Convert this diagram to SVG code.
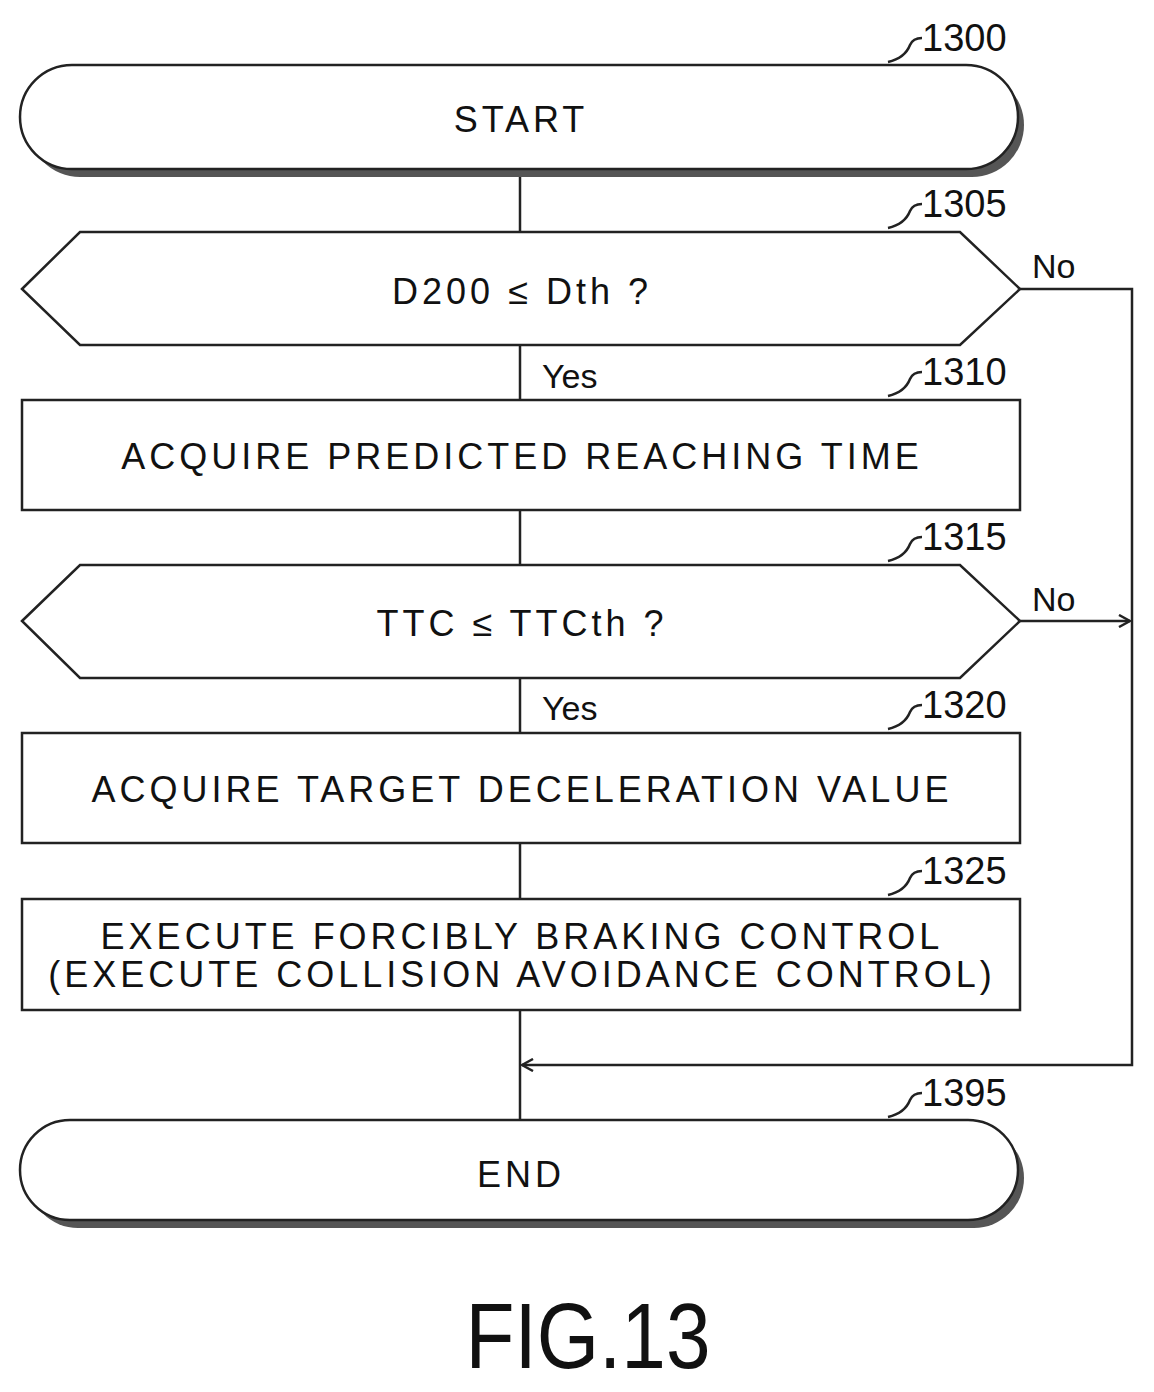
<svg xmlns="http://www.w3.org/2000/svg" width="1154" height="1392" viewBox="0 0 1154 1392">
<defs>
<style>
.s{fill:#fff;stroke:#222;stroke-width:2.5}
.sh{fill:#555}
.c{fill:none;stroke:#222;stroke-width:2.5}
.t{font-family:"Liberation Sans",Arial,sans-serif;font-size:36px;fill:#111;text-anchor:middle;letter-spacing:4px}
.l{font-family:"Liberation Sans",Arial,sans-serif;font-size:34px;fill:#111}
.n{font-family:"Liberation Sans",Arial,sans-serif;font-size:38px;fill:#111}
</style>
<marker id="a" markerWidth="14" markerHeight="14" refX="12" refY="7" orient="auto" markerUnits="userSpaceOnUse"><path d="M1,1 L12,7 L1,13" fill="none" stroke="#222" stroke-width="2.5"/></marker>
</defs>
<rect width="1154" height="1392" fill="#fff"/>
<g id="connectors">
<path class="c" d="M520,175 V232"/>
<path class="c" d="M520,345 V400"/>
<path class="c" d="M520,510 V565"/>
<path class="c" d="M520,678 V733"/>
<path class="c" d="M520,843 V899"/>
<path class="c" d="M520,1010 V1120"/>
<path class="c" d="M1020,289 H1132 V1065 H522" marker-end="url(#a)"/>
<path class="c" d="M1020,621 H1130" marker-end="url(#a)"/>
<text class="l" x="1032" y="278">No</text>
<text class="l" x="1032" y="611">No</text>
<text class="l" x="542" y="388">Yes</text>
<text class="l" x="542" y="720">Yes</text>
</g>
<g id="n1300">
<rect class="sh" x="28" y="73" width="996" height="104" rx="52"/>
<rect class="s" x="20" y="65" width="998" height="104" rx="52"/>
<text class="t" x="521" y="132">START</text>
<path class="c" d="M888,62 Q905,58 910,45 Q913,38 922,38"/>
<text class="n" x="922" y="51">1300</text>
</g>
<g id="n1305">
<polygon class="s" points="22,289 80,232 960,232 1020,289 960,345 80,345"/>
<text class="t" x="522" y="304">D200 ≤ Dth ?</text>
<path class="c" d="M888,228 Q905,224 910,211 Q913,204 922,204"/>
<text class="n" x="922" y="217">1305</text>
</g>
<g id="n1310">
<rect class="s" x="22" y="400" width="998" height="110"/>
<text class="t" x="522" y="469">ACQUIRE PREDICTED REACHING TIME</text>
<path class="c" d="M888,396 Q905,392 910,379 Q913,372 922,372"/>
<text class="n" x="922" y="385">1310</text>
</g>
<g id="n1315">
<polygon class="s" points="22,621 80,565 960,565 1020,621 960,678 80,678"/>
<text class="t" x="522" y="636">TTC ≤ TTCth ?</text>
<path class="c" d="M888,561 Q905,557 910,544 Q913,537 922,537"/>
<text class="n" x="922" y="550">1315</text>
</g>
<g id="n1320">
<rect class="s" x="22" y="733" width="998" height="110"/>
<text class="t" x="522" y="802">ACQUIRE TARGET DECELERATION VALUE</text>
<path class="c" d="M888,729 Q905,725 910,712 Q913,705 922,705"/>
<text class="n" x="922" y="718">1320</text>
</g>
<g id="n1325">
<rect class="s" x="22" y="899" width="998" height="111"/>
<text class="t" x="522" y="949">EXECUTE FORCIBLY BRAKING CONTROL</text>
<text class="t" x="522" y="987" letter-spacing="3">(EXECUTE COLLISION AVOIDANCE CONTROL)</text>
<path class="c" d="M888,895 Q905,891 910,878 Q913,871 922,871"/>
<text class="n" x="922" y="884">1325</text>
</g>
<g id="n1395">
<rect class="sh" x="28" y="1128" width="996" height="100" rx="50"/>
<rect class="s" x="20" y="1120" width="998" height="100" rx="50"/>
<text class="t" x="521" y="1187">END</text>
<path class="c" d="M888,1117 Q905,1113 910,1100 Q913,1093 922,1093"/>
<text class="n" x="922" y="1106">1395</text>
</g>
<text x="588" y="1368" font-family="'Liberation Sans',Arial,sans-serif" font-size="92" fill="#111" text-anchor="middle" textLength="245" lengthAdjust="spacingAndGlyphs">FIG.13</text>
</svg>
